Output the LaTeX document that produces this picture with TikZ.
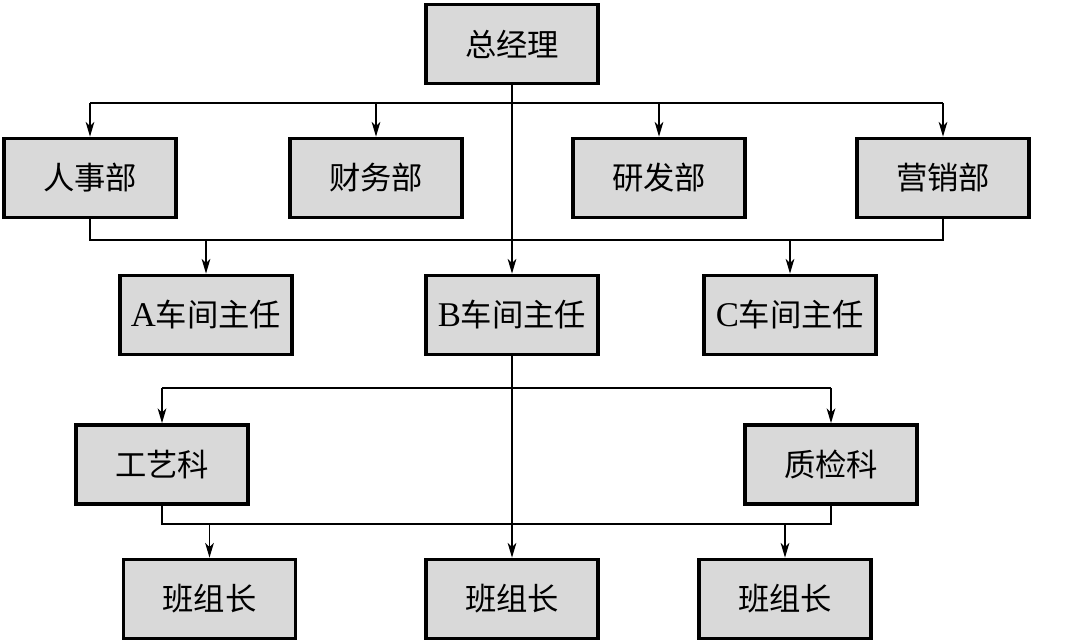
\documentclass[tikz,border=0pt]{standalone}
\usepackage{fontspec}
\setmainfont{Liberation Serif}
\newfontfamily\cjk{Noto Sans CJK SC}
\usetikzlibrary{arrows.meta}
\definecolor{boxgray}{RGB}{217,217,217}
\begin{document}
\begin{tikzpicture}[x=0.75pt,y=-0.75pt,
  orgbox/.style={draw=black,fill=boxgray,line width=2.6pt,inner sep=0pt,
    minimum width=129pt,minimum height=59.5pt,
    font=\fontsize{23.5}{27}\selectfont},
  conn/.style={line width=0.9pt},
  arr/.style={line width=0.9pt,-{Stealth[length=11pt,width=6.5pt,inset=3pt]}}]
\useasboundingbox (0,0) rectangle (1078,643);
% nodes
\node[orgbox] (zjl) at (512,44) {\cjk 总经理};
\node[orgbox] (rsb) at (90,178) {\cjk 人事部};
\node[orgbox] (cwb) at (376,178) {\cjk 财务部};
\node[orgbox] (yfb) at (659,178) {\cjk 研发部};
\node[orgbox] (yxb) at (943,178) {\cjk 营销部};
\node[orgbox] (ca) at (206,315) {{\fontsize{26}{27}\selectfont A}\cjk 车间主任};
\node[orgbox] (cb) at (512,315) {{\fontsize{26}{27}\selectfont B}\cjk 车间主任};
\node[orgbox] (cc) at (790,315) {{\fontsize{26}{27}\selectfont C}\cjk 车间主任};
\node[orgbox] (gyk) at (162,464.5) {\cjk 工艺科};
\node[orgbox] (zjk) at (831,464.5) {\cjk 质检科};
\node[orgbox] (bz1) at (209.5,599) {\cjk 班组长};
\node[orgbox] (bz2) at (512,599) {\cjk 班组长};
\node[orgbox] (bz3) at (785,599) {\cjk 班组长};
% helper coordinates
\coordinate (ht) at (0,103);
\coordinate (hm) at (0,240);
\coordinate (hb) at (0,388);
\coordinate (hl) at (0,524);
% top level
\draw[conn] (rsb.north |- ht) -- (yxb.north |- ht);
\foreach \n in {rsb,cwb,yfb,yxb}{\draw[arr] (\n.north |- ht) -- (\n.north);}
\draw[arr] (zjl.south) -- (cb.north);
% departments to workshops
\draw[conn] (rsb.south) -- (rsb.south |- hm) -- (yxb.south |- hm) -- (yxb.south);
\draw[arr] (ca.north |- hm) -- (ca.north);
\draw[arr] (cc.north |- hm) -- (cc.north);
% B workshop
\draw[arr] (cb.south) -- (bz2.north);
\draw[conn] (gyk.north |- hb) -- (zjk.north |- hb);
\draw[arr] (gyk.north |- hb) -- (gyk.north);
\draw[arr] (zjk.north |- hb) -- (zjk.north);
% sections to team leaders
\draw[conn] (gyk.south) -- (gyk.south |- hl) -- (zjk.south |- hl) -- (zjk.south);
\draw[arr] (bz1.north |- hl) -- (bz1.north);
\draw[arr] (bz3.north |- hl) -- (bz3.north);
\end{tikzpicture}
\end{document}
